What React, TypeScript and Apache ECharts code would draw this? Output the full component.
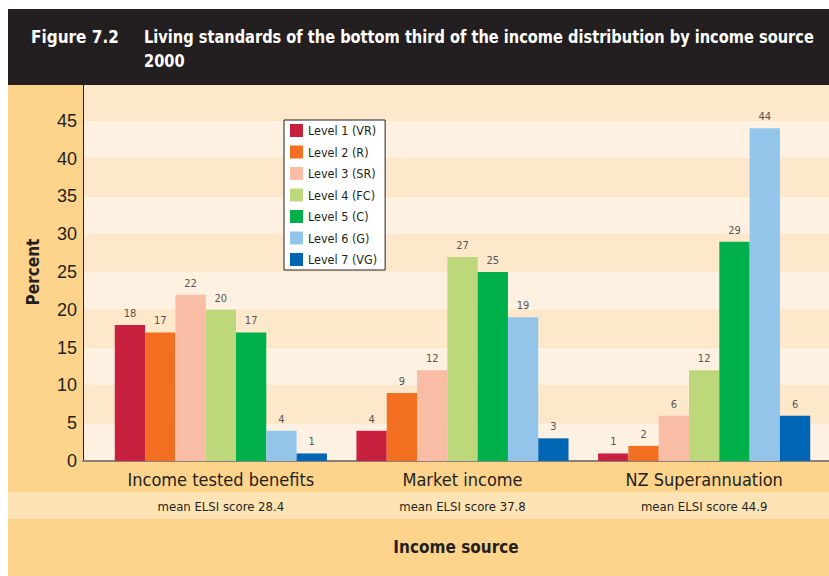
import React, { useEffect, useRef } from "react";
import * as echarts from "echarts";

const categories = ["Income tested benefits", "Market income", "NZ Superannuation"];
const elsiLabels = ["mean ELSI score 28.4", "mean ELSI score 37.8", "mean ELSI score 44.9"];
const levelNames = [
  "Level 1 (VR)",
  "Level 2 (R)",
  "Level 3 (SR)",
  "Level 4 (FC)",
  "Level 5 (C)",
  "Level 6 (G)",
  "Level 7 (VG)",
];
const level1 = [18, 4, 1];
const level2 = [17, 9, 2];
const level3 = [22, 12, 6];
const level4 = [20, 27, 12];
const level5 = [17, 25, 29];
const level6 = [4, 19, 44];
const level7 = [1, 3, 6];
const levelValues = [level1, level2, level3, level4, level5, level6, level7];
const levelColors = ["#c8203f", "#f26f21", "#f9bca4", "#bdd87a", "#00b04a", "#93c5ea", "#0066b3"];

const NARROW = "'Liberation Sans Narrow', 'DejaVu Sans Condensed', 'Roboto', sans-serif";
const TEXT = "#231f20";

export default function App() {
  const ref = useRef<HTMLDivElement>(null);
  useEffect(() => {
    if (!ref.current) return;
    const chart = echarts.init(ref.current, undefined, { renderer: "svg" });
    const W = 829;
    const H = 576;
    chart.setOption({
      animation: false,
      backgroundColor: "#ffffff",
      textStyle: { fontFamily: NARROW },
      graphic: [
        { type: "rect", z: -20, shape: { x: 8, y: 84, width: W - 8, height: H - 84 }, style: { fill: "#fed38b" } },
        { type: "rect", z: -19, shape: { x: 8, y: 492, width: W - 8, height: 27 }, style: { fill: "#fee4b5" } },
        { type: "rect", z: 100, shape: { x: 8, y: 9, width: W - 8, height: 76 }, style: { fill: "#231f20" } },
        {
          type: "text",
          z: 101,
          x: 31,
          y: 37,
          style: { text: "Figure 7.2", fill: "#ffffff", font: `bold 17px ${NARROW}`, textVerticalAlign: "middle" },
        },
        {
          type: "text",
          z: 101,
          x: 144,
          y: 37,
          scaleX: 0.955,
          style: {
            text: "Living standards of the bottom third of the income distribution by income source",
            fill: "#ffffff",
            font: `bold 17px ${NARROW}`,
            textVerticalAlign: "middle",
          },
        },
        {
          type: "text",
          z: 101,
          x: 144,
          y: 61,
          scaleX: 0.955,
          style: { text: "2000", fill: "#ffffff", font: `bold 17px ${NARROW}`, textVerticalAlign: "middle" },
        },
        {
          type: "text",
          z: 101,
          x: 456,
          y: 547,
          style: { text: "Income source", fill: TEXT, font: `bold 17px ${NARROW}`, textAlign: "center", textVerticalAlign: "middle" },
        },
      ],
      legend: {
        orient: "vertical",
        left: 284,
        top: 120,
        data: levelNames,
        icon: "rect",
        itemWidth: 13,
        itemHeight: 13,
        itemGap: 8.5,
        padding: [4, 8, 4, 6],
        backgroundColor: "#ffffff",
        borderColor: TEXT,
        borderWidth: 1,
        textStyle: { color: TEXT, fontSize: 12.5, fontFamily: NARROW },
      },
      grid: [
        { left: 83, right: 0, top: 83, bottom: 115 },
        { left: 100, right: 4, top: 83, bottom: 115 },
      ],
      xAxis: [
        {
          gridIndex: 0,
          type: "value",
          min: 0,
          max: 1,
          axisLine: { show: true, lineStyle: { color: "#8a8178", width: 2 } },
          axisTick: { show: false },
          axisLabel: { show: false },
          splitLine: { show: false },
        },
        {
          gridIndex: 1,
          type: "category",
          data: categories,
          axisLine: { show: false },
          axisTick: { show: false },
          axisLabel: { color: TEXT, fontSize: 18, margin: 9, interval: 0, fontFamily: NARROW },
        },
        {
          gridIndex: 1,
          type: "category",
          position: "bottom",
          offset: 33,
          data: elsiLabels,
          axisLine: { show: false },
          axisTick: { show: false },
          axisLabel: { color: TEXT, fontSize: 13, margin: 6, interval: 0, fontFamily: NARROW },
        },
      ],
      yAxis: [
        {
          gridIndex: 0,
          type: "value",
          min: 0,
          max: 50,
          interval: 5,
          name: "Percent",
          nameLocation: "middle",
          nameGap: 42,
          nameRotate: 90,
          nameTextStyle: { color: TEXT, fontSize: 17, fontWeight: "bold", fontFamily: NARROW },
          axisLine: { show: true, lineStyle: { color: TEXT, width: 1 } },
          axisTick: { show: false },
          axisLabel: { color: TEXT, fontSize: 18, margin: 6, showMaxLabel: false, fontFamily: "'Liberation Sans', Arial, sans-serif" },
          splitLine: { show: false },
          splitArea: { show: true, areaStyle: { color: ["#fef1e2", "#fee8cb"] } },
        },
        {
          gridIndex: 1,
          type: "value",
          min: 0,
          max: 50,
          interval: 5,
          show: false,
          splitLine: { show: false },
        },
      ],
      series: levelNames.map((name, i) => ({
        name,
        type: "bar",
        xAxisIndex: 1,
        yAxisIndex: 1,
        data: levelValues[i],
        barWidth: 30.3,
        barGap: "0%",
        itemStyle: { color: levelColors[i] },
        label: {
          show: true,
          position: "top",
          distance: 6,
          color: "#555555",
          fontSize: 11,
          fontFamily: NARROW,
        },
      })),
    });
    return () => chart.dispose();
  }, []);
  return <div ref={ref} style={{ position: "fixed", left: 0, top: 0, width: 829, height: 576 }} />;
}
